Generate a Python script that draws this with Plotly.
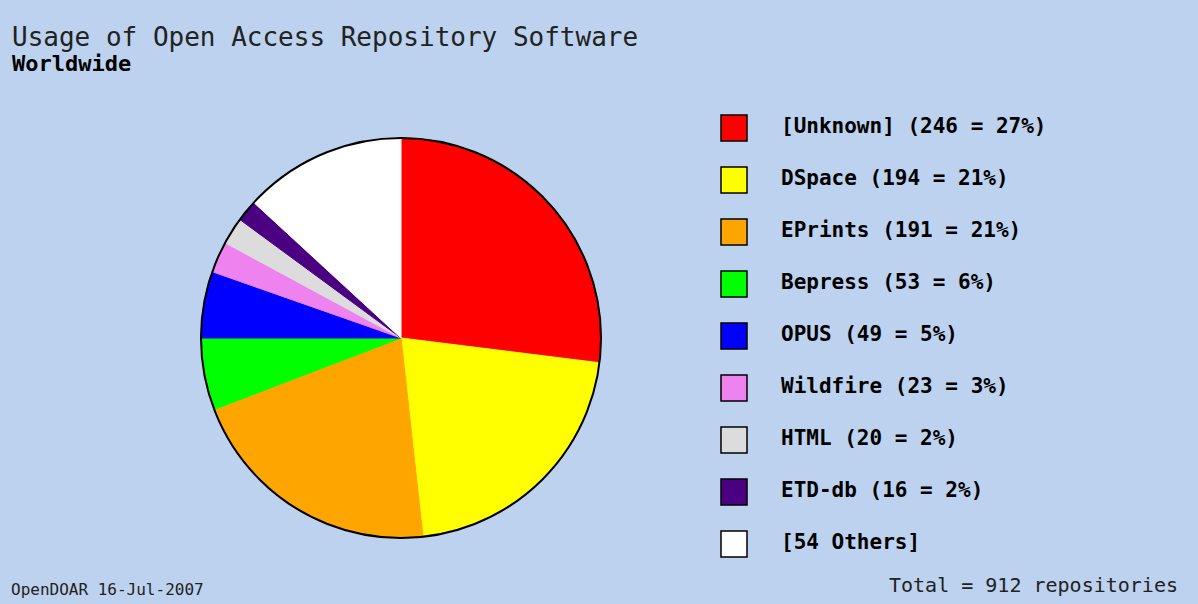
import plotly.graph_objects as go

# ---- data ----
software = ["[Unknown]", "DSpace", "EPrints", "Bepress", "OPUS", "Wildfire", "HTML", "ETD-db", "[54 Others]"]
counts = [246, 194, 191, 53, 49, 23, 20, 16, 120]
legend_labels = ["[Unknown] (246 = 27%)", "DSpace (194 = 21%)", "EPrints (191 = 21%)",
                 "Bepress (53 = 6%)", "OPUS (49 = 5%)", "Wildfire (23 = 3%)",
                 "HTML (20 = 2%)", "ETD-db (16 = 2%)", "[54 Others]"]
colors = ["#FF0000", "#FFFF00", "#FFA500", "#00FF00", "#0000FF", "#EE82EE", "#DCDCDC", "#4B0082", "#FFFFFF"]
total = 912

W, H = 1198, 604
BG = "#BCD2EE"
MONO = "DejaVu Sans Mono"

# pie placement (pixels)
cx, cy, r = 401, 338, 200
dom_x = [(cx - r) / W, (cx + r) / W]
dom_y = [1 - (cy + r) / H, 1 - (cy - r) / H]

fig = go.Figure()

fig.add_trace(go.Pie(
    labels=software, values=counts, sort=False, direction="clockwise", rotation=0,
    marker=dict(colors=colors, line=dict(color=colors, width=1)),
    textinfo="none", hoverinfo="label+value+percent", showlegend=False,
    domain=dict(x=dom_x, y=dom_y),
))
# outer outline
fig.add_trace(go.Pie(
    labels=["Total"], values=[total], sort=False,
    marker=dict(colors=["rgba(0,0,0,0)"], line=dict(color="black", width=2)),
    textinfo="none", hoverinfo="skip", showlegend=False,
    domain=dict(x=dom_x, y=dom_y),
))

# custom legend via scatter on its own axes
idx = list(range(len(software)))
fig.add_trace(go.Scatter(
    x=[0] * len(idx), y=idx, mode="markers",
    marker=dict(symbol="square", size=26, color=colors, line=dict(color="black", width=1.5)),
    hoverinfo="skip", showlegend=False, xaxis="x2", yaxis="y2",
))
fig.add_trace(go.Scatter(
    x=[1] * len(idx), y=idx, mode="text", text=legend_labels, textposition="middle right",
    textfont=dict(family=MONO, size=21, color="black", weight="bold"),
    hoverinfo="skip", showlegend=False, xaxis="x2", yaxis="y2",
))

leg_x0 = 599
px_unit = 47
marker_px = 734
first_px, step_px = 128, 52
xr = [-(marker_px - leg_x0) / px_unit, (W - marker_px) / px_unit]
yr = [(H - first_px) / step_px, -first_px / step_px]

fig.update_layout(
    width=W, height=H, margin=dict(l=0, r=0, t=0, b=0),
    paper_bgcolor=BG, plot_bgcolor="rgba(0,0,0,0)",
    xaxis2=dict(domain=[leg_x0 / W, 1], range=xr, visible=False, fixedrange=True),
    yaxis2=dict(domain=[0, 1], range=yr, visible=False, fixedrange=True, anchor="x2"),
    xaxis=dict(visible=False), yaxis=dict(visible=False),
    annotations=[
        dict(text="Usage of Open Access Repository Software", x=10 / W, y=1 - 37 / H,
             xref="paper", yref="paper", xanchor="left", yanchor="middle", showarrow=False,
             font=dict(family=MONO, size=26, color="#222222")),
        dict(text="<b>Worldwide</b>", x=10 / W, y=1 - 63 / H,
             xref="paper", yref="paper", xanchor="left", yanchor="middle", showarrow=False,
             font=dict(family=MONO, size=22, color="black")),
        dict(text="OpenDOAR 16-Jul-2007", x=9 / W, y=1 - 589 / H,
             xref="paper", yref="paper", xanchor="left", yanchor="middle", showarrow=False,
             font=dict(family=MONO, size=16, color="#222222")),
        dict(text="Total = 912 repositories", x=1180 / W, y=1 - 585 / H,
             xref="paper", yref="paper", xanchor="right", yanchor="middle", showarrow=False,
             font=dict(family=MONO, size=20, color="#222222")),
    ],
)

fig.write_html(
    "out.html",
    config={"displayModeBar": False},
    post_script="document.body.style.margin='0';document.body.style.padding='0';"
                "document.body.style.overflow='hidden';document.body.style.background='" + BG + "';",
)
